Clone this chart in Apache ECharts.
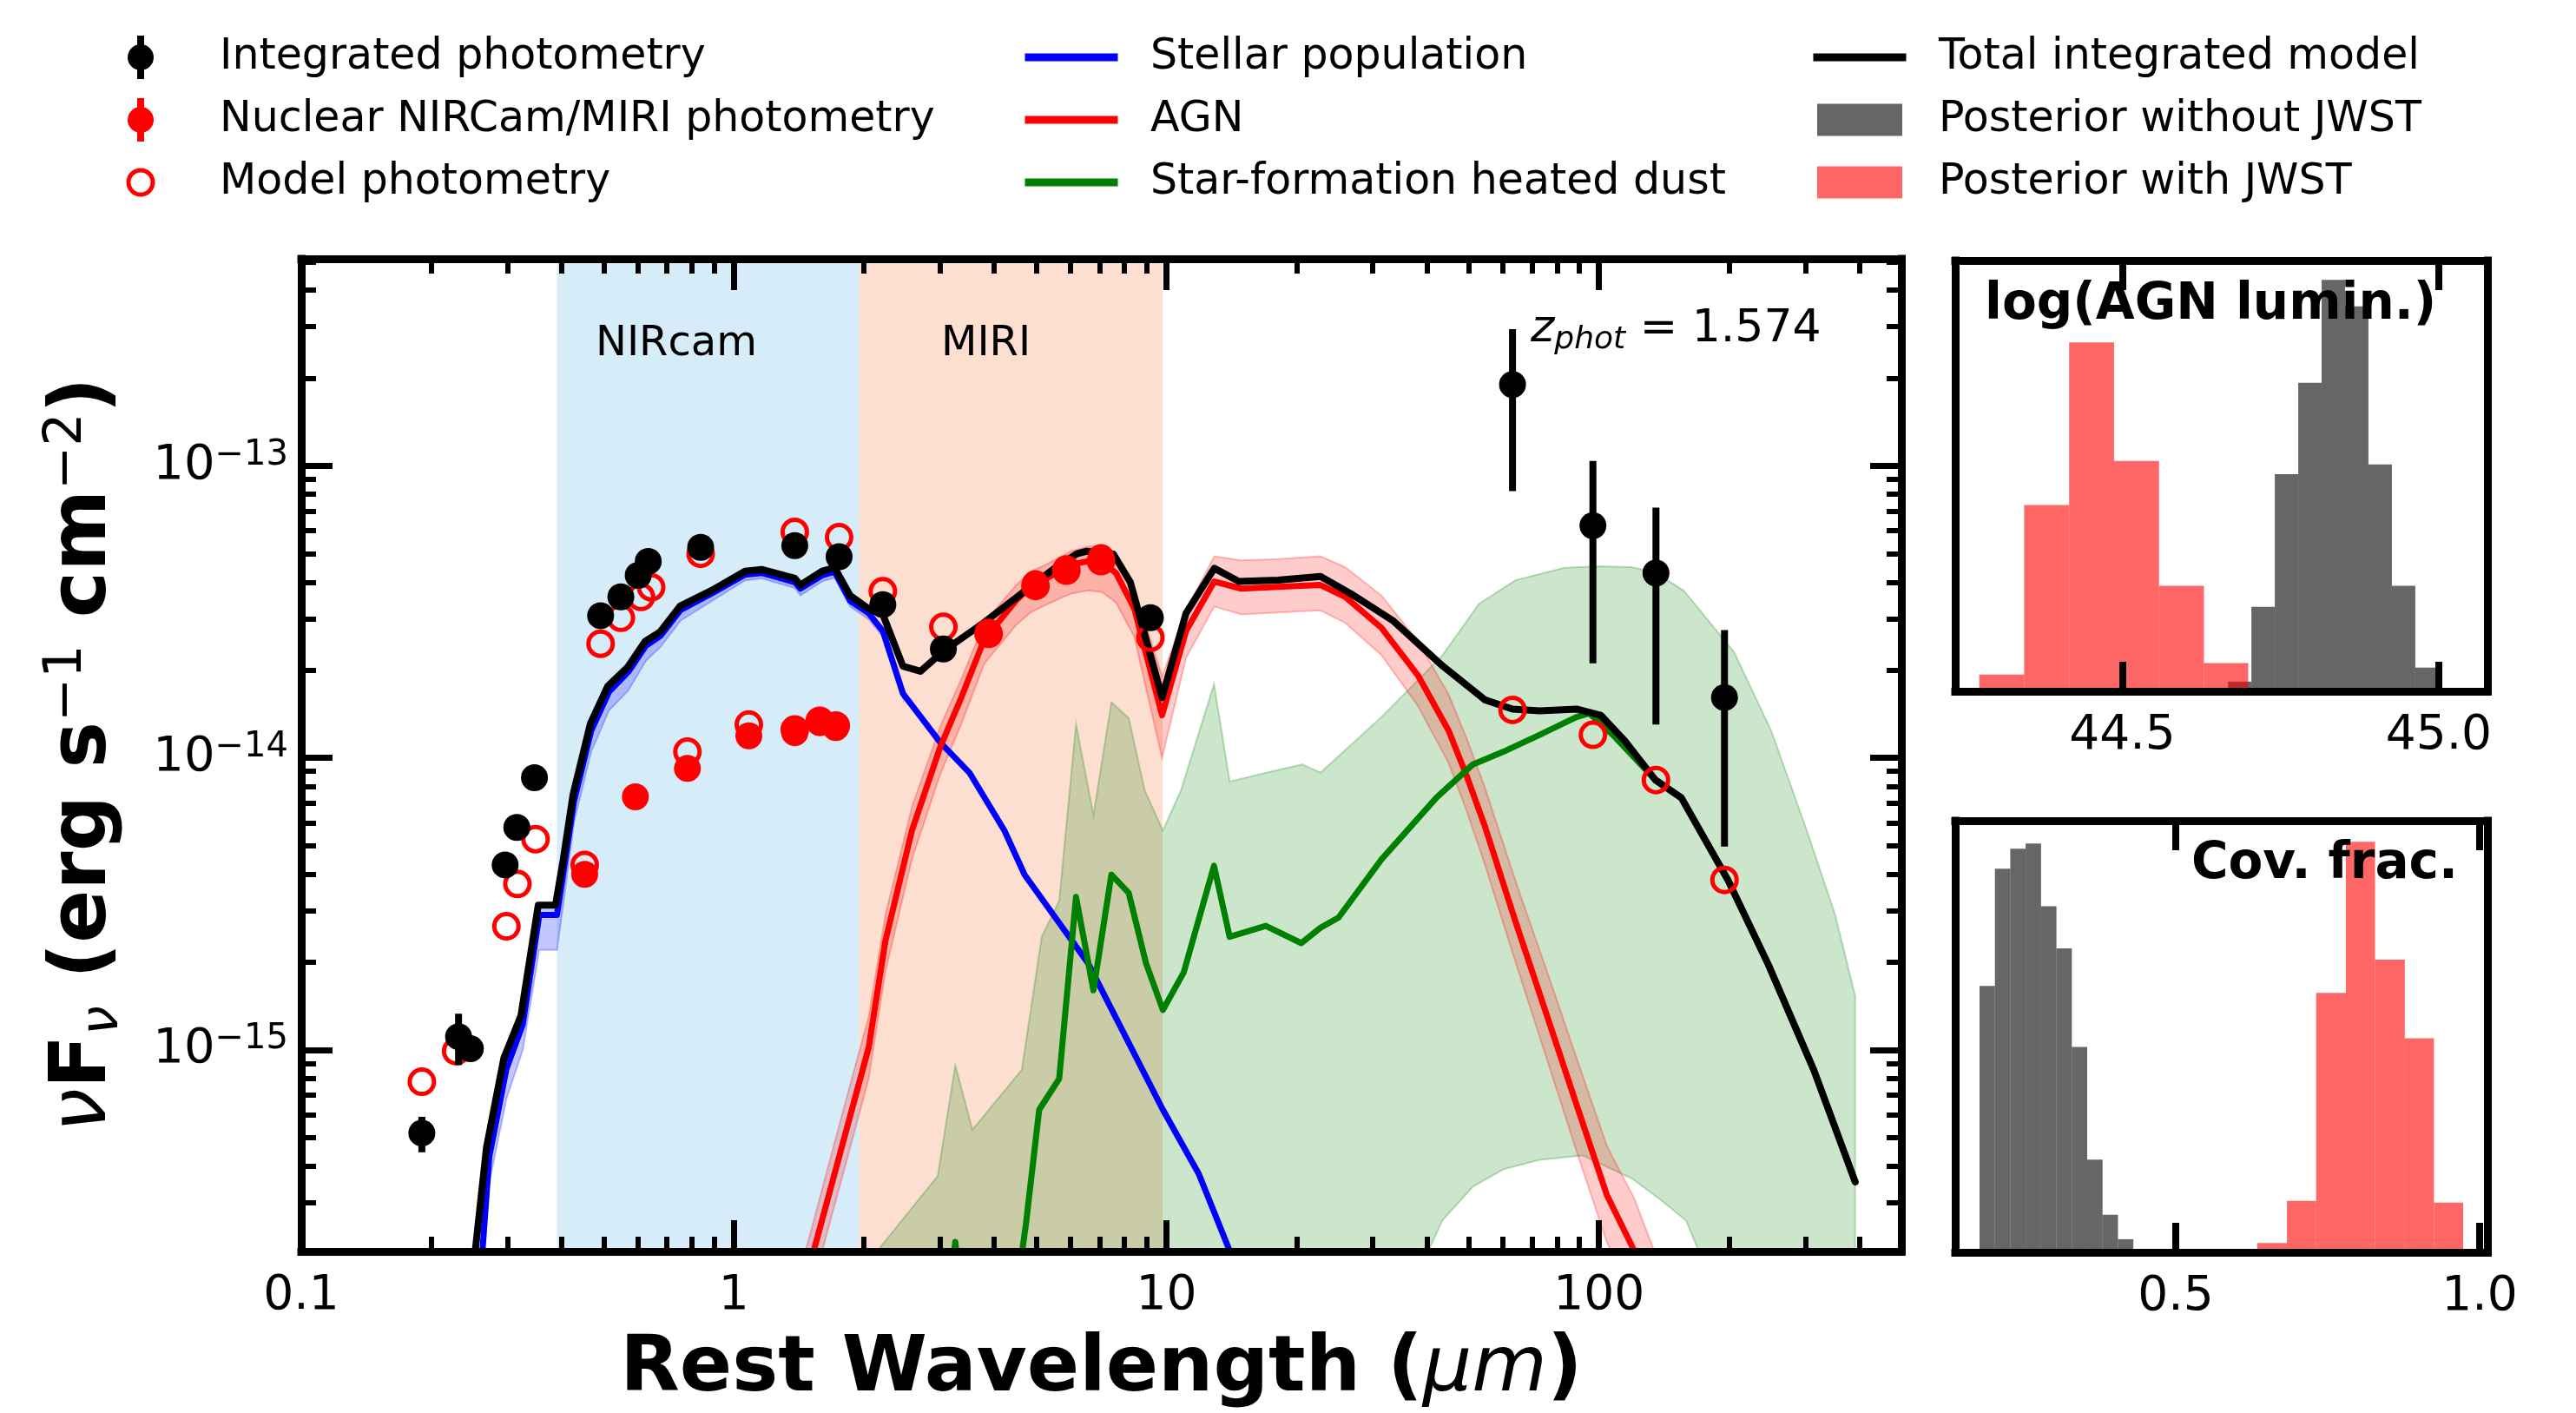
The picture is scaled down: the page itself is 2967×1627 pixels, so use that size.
<!DOCTYPE html>
<html>
<head>
<meta charset="utf-8">
<title>SED decomposition</title>
<script src="https://cdn.jsdelivr.net/npm/echarts@6.0.0/dist/echarts.min.js"></script>
<style>
  html, body { margin: 0; padding: 0; background: #fff; }
  #sed { width: 2967px; height: 1627px; }
</style>
</head>
<body>
<div id="sed"></div>
<script>
// ---------- axis ranges ----------
const waveMin = 0.1, waveMax = 500;
const fluxMin = 2.04e-16, fluxMax = 5.12e-13;
const xMajor = [0.1, 1, 10, 100];
const yMajor = [1e-15, 1e-14, 1e-13];

// ---------- instrument coverage (rest frame, micron) ----------
const instLabels = ['NIRcam', 'MIRI'];
const instFrom = [0.39, 1.95];
const instTo = [1.95, 9.8];

// ---------- integrated photometry ----------
const intWave = [0.19, 0.231, 0.246, 0.296, 0.315, 0.346, 0.492, 0.548, 0.601, 0.634, 0.838, 1.383, 1.751, 2.21, 3.05, 9.18, 63.1, 96.8, 135.4, 195];
const intFlux = [5.19e-16, 1.11e-15, 1.01e-15, 4.3e-15, 5.78e-15, 8.55e-15, 3.07e-14, 3.56e-14, 4.22e-14, 4.71e-14, 5.26e-14, 5.33e-14, 4.89e-14, 3.35e-14, 2.36e-14, 3.02e-14, 1.9e-13, 6.24e-14, 4.3e-14, 1.61e-14];
const intLow = [4.46e-16, 8.87e-16, 9.6e-16, 4.1e-15, 5.5e-15, 8.2e-15, 2.95e-14, 3.45e-14, 4.1e-14, 4.55e-14, 5.1e-14, 5.15e-14, 4.7e-14, 3.2e-14, 2.25e-14, 2.85e-14, 8.2e-14, 2.11e-14, 1.3e-14, 4.97e-15];
const intHigh = [5.9e-16, 1.33e-15, 1.06e-15, 4.5e-15, 6.05e-15, 8.9e-15, 3.2e-14, 3.67e-14, 4.35e-14, 4.87e-14, 5.42e-14, 5.5e-14, 5.08e-14, 3.5e-14, 2.47e-14, 3.19e-14, 2.94e-13, 1.04e-13, 7.2e-14, 2.74e-14];

// ---------- nuclear NIRCam / MIRI photometry ----------
const nucWave = [0.452, 0.592, 0.781, 1.083, 1.383, 1.58, 1.72, 3.88, 4.98, 5.87, 7.06];
const nucFlux = [3.99e-15, 7.36e-15, 9.2e-15, 1.19e-14, 1.22e-14, 1.32e-14, 1.27e-14, 2.7e-14, 3.95e-14, 4.45e-14, 4.85e-14];

// ---------- model photometry ----------
const modWave = [0.19, 0.228, 0.298, 0.316, 0.348, 0.452, 0.492, 0.548, 0.61, 0.644, 0.781, 0.838, 1.083, 1.383, 1.383, 1.58, 1.72, 1.751, 2.21, 3.05, 3.88, 4.98, 5.87, 7.06, 9.18, 63.1, 96.8, 135.4, 195];
const modFlux = [7.78e-16, 9.9e-16, 2.65e-15, 3.7e-15, 5.27e-15, 4.3e-15, 2.46e-14, 3.02e-14, 3.56e-14, 3.84e-14, 1.05e-14, 5.0e-14, 1.3e-14, 5.94e-14, 1.25e-14, 1.34e-14, 1.29e-14, 5.7e-14, 3.72e-14, 2.81e-14, 2.66e-14, 3.88e-14, 4.38e-14, 4.72e-14, 2.58e-14, 1.46e-14, 1.2e-14, 8.4e-15, 3.82e-15];

// ---------- total integrated model ----------
const totWave = [0.245, 0.252, 0.268, 0.294, 0.322, 0.353, 0.387, 0.403, 0.425, 0.466, 0.511, 0.569, 0.624, 0.675, 0.751, 0.89, 1.061, 1.159, 1.383, 1.425, 1.6, 1.71, 1.857, 2.05, 2.21, 2.46, 2.7, 3.05, 3.79, 4.85, 5.57, 6.21, 6.52, 7.54, 8.25, 9.77, 11.1, 12.9, 14.7, 18.1, 22.7, 26.7, 33.5, 43.4, 54.5, 63.1, 72.9, 88.7, 100.9, 114.9, 135, 155, 198.6, 246.6, 314, 391];
const totFlux = [1.5e-16, 2.0e-16, 4.63e-16, 9.38e-16, 1.31e-15, 3.13e-15, 3.13e-15, 4.46e-15, 7.5e-15, 1.31e-14, 1.76e-14, 2.05e-14, 2.51e-14, 2.7e-14, 3.31e-14, 3.75e-14, 4.36e-14, 4.42e-14, 4.12e-14, 3.91e-14, 4.36e-14, 4.48e-14, 3.6e-14, 3.24e-14, 3.1e-14, 2.06e-14, 1.98e-14, 2.32e-14, 2.91e-14, 3.86e-14, 4.51e-14, 5.0e-14, 5.1e-14, 4.99e-14, 4.0e-14, 1.61e-14, 3.13e-14, 4.46e-14, 4.02e-14, 4.06e-14, 4.18e-14, 3.65e-14, 2.94e-14, 2.07e-14, 1.58e-14, 1.47e-14, 1.45e-14, 1.47e-14, 1.4e-14, 1.14e-14, 8.4e-15, 7.3e-15, 3.82e-15, 1.95e-15, 8.5e-16, 3.53e-16];

// ---------- stellar population ----------
const stelWave = [0.255, 0.262, 0.272, 0.298, 0.325, 0.355, 0.39, 0.405, 0.427, 0.468, 0.514, 0.57, 0.626, 0.677, 0.753, 0.89, 1.061, 1.159, 1.383, 1.425, 1.6, 1.71, 1.857, 2.05, 2.21, 2.46, 3.0, 3.51, 4.22, 4.7, 5.48, 6.59, 9.81, 11.88, 14.0, 14.6];
const stelFlux = [1.6e-16, 2.0e-16, 4.3e-16, 8.6e-16, 1.22e-15, 2.9e-15, 2.9e-15, 4.2e-15, 7.1e-15, 1.24e-14, 1.68e-14, 1.97e-14, 2.42e-14, 2.62e-14, 3.21e-14, 3.66e-14, 4.24e-14, 4.3e-14, 4.0e-14, 3.8e-14, 4.22e-14, 4.34e-14, 3.45e-14, 3.13e-14, 2.72e-14, 1.66e-14, 1.13e-14, 8.87e-15, 5.64e-15, 3.98e-15, 2.9e-15, 1.98e-15, 6.24e-16, 3.76e-16, 2.05e-16, 1.7e-16];
const stelBandWave = [0.255, 0.262, 0.272, 0.298, 0.325, 0.355, 0.39, 0.405, 0.427, 0.468, 0.514, 0.57, 0.626, 0.677, 0.753, 0.89, 1.061, 1.159, 1.383, 1.425, 1.6, 1.71, 1.857, 2.05, 2.21, 2.46];
const stelBandUp = [1.7e-16, 2.2e-16, 4.6e-16, 9.2e-16, 1.3e-15, 3.1e-15, 3.1e-15, 4.4e-15, 7.4e-15, 1.3e-14, 1.75e-14, 2.04e-14, 2.5e-14, 2.7e-14, 3.3e-14, 3.75e-14, 4.34e-14, 4.4e-14, 4.1e-14, 3.9e-14, 4.34e-14, 4.46e-14, 3.58e-14, 3.2e-14, 2.8e-14, 1.7e-14];
const stelBandLow = [1.3e-16, 1.6e-16, 3.5e-16, 6.8e-16, 1.0e-15, 2.2e-15, 2.2e-15, 3.3e-15, 6.0e-15, 1.05e-14, 1.45e-14, 1.7e-14, 2.15e-14, 2.4e-14, 2.95e-14, 3.45e-14, 4.05e-14, 4.12e-14, 3.82e-14, 3.6e-14, 4.02e-14, 4.14e-14, 3.3e-14, 2.98e-14, 2.6e-14, 1.6e-14];

// ---------- AGN ----------
const agnWave = [1.4, 1.53, 1.8, 2.05, 2.24, 2.58, 3.0, 3.35, 3.79, 4.49, 4.85, 5.28, 6.01, 6.6, 7.1, 7.65, 8.43, 9.77, 11.1, 12.9, 14.9, 18.1, 22.7, 25.9, 31.4, 38.2, 44.9, 49.4, 54.5, 64.1, 75.4, 88.7, 104.2, 120.6, 135];
const agnFlux = [1.26e-16, 2.05e-16, 5.0e-16, 1.02e-15, 2.36e-15, 5.64e-15, 1.09e-14, 1.6e-14, 2.54e-14, 3.46e-14, 3.86e-14, 4.12e-14, 4.59e-14, 4.72e-14, 4.7e-14, 4.29e-14, 3.24e-14, 1.4e-14, 2.72e-14, 4.02e-14, 3.8e-14, 3.85e-14, 3.91e-14, 3.56e-14, 2.79e-14, 1.91e-14, 1.24e-14, 8.7e-15, 5.82e-15, 2.75e-15, 1.34e-15, 6.5e-16, 3.19e-16, 2.05e-16, 1.3e-16];
const agnUp = [1.6e-16, 2.6e-16, 6.4e-16, 1.3e-15, 2.9e-15, 6.8e-15, 1.28e-14, 1.85e-14, 2.9e-14, 3.9e-14, 4.35e-14, 4.6e-14, 5.1e-14, 5.3e-14, 5.3e-14, 4.9e-14, 3.8e-14, 1.9e-14, 3.2e-14, 4.9e-14, 4.75e-14, 4.8e-14, 4.9e-14, 4.5e-14, 3.6e-14, 2.5e-14, 1.65e-14, 1.17e-14, 7.9e-15, 3.8e-15, 1.9e-15, 9.4e-16, 4.7e-16, 3.1e-16, 2.0e-16];
const agnLow = [9.5e-17, 1.6e-16, 3.9e-16, 8.0e-16, 1.85e-15, 4.5e-15, 8.8e-15, 1.3e-14, 2.1e-14, 2.85e-14, 3.15e-14, 3.35e-14, 3.65e-14, 3.75e-14, 3.7e-14, 3.4e-14, 2.6e-14, 1.0e-14, 2.2e-14, 3.3e-14, 3.1e-14, 3.15e-14, 3.2e-14, 2.9e-14, 2.25e-14, 1.5e-14, 9.6e-15, 6.6e-15, 4.3e-15, 2.0e-15, 9.5e-16, 4.5e-16, 2.2e-16, 1.35e-16, 9.0e-17];

// ---------- star-formation heated dust ----------
const sfWave = [3.1, 3.25, 3.4, 4.5, 4.63, 4.73, 5.08, 5.65, 6.18, 6.78, 7.46, 8.18, 8.97, 9.81, 10.96, 12.88, 14.0, 16.97, 20.5, 22.7, 25.0, 31.4, 42.1, 51.1, 60.1, 72.9, 88.7, 95, 107.6, 135, 155, 198.6, 246.6, 314, 391];
const sfFlux = [1.2e-16, 2.2e-16, 1.2e-16, 1.2e-16, 2.0e-16, 2.51e-16, 6.24e-16, 7.97e-16, 3.34e-15, 1.6e-15, 3.98e-15, 3.45e-15, 1.98e-15, 1.37e-15, 1.84e-15, 4.27e-15, 2.44e-15, 2.66e-15, 2.32e-15, 2.62e-15, 2.84e-15, 4.49e-15, 7.31e-15, 9.5e-15, 1.05e-14, 1.2e-14, 1.38e-14, 1.42e-14, 1.2e-14, 8.4e-15, 7.3e-15, 3.82e-15, 1.95e-15, 8.5e-16, 3.53e-16];
const sfUpWave = [2.0, 2.96, 3.25, 3.56, 4.63, 5.15, 5.65, 6.18, 6.78, 7.46, 8.18, 8.91, 9.81, 10.8, 12.88, 14.0, 17.0, 20.6, 22.7, 31.4, 43.4, 52.8, 64.1, 83.1, 101, 119, 135, 157, 205, 250, 301, 351, 391];
const sfUpFlux = [1.8e-16, 3.7e-16, 8.85e-16, 5.33e-16, 8.55e-16, 2.44e-15, 3.24e-15, 1.3e-14, 6.37e-15, 1.55e-14, 1.37e-14, 7.73e-15, 5.64e-15, 7.73e-15, 1.79e-14, 8.3e-15, 8.9e-15, 9.5e-15, 8.9e-15, 1.38e-14, 2.24e-14, 3.37e-14, 4.06e-14, 4.48e-14, 4.53e-14, 4.5e-14, 4.31e-14, 3.74e-14, 2.31e-14, 1.24e-14, 5.74e-15, 2.92e-15, 1.53e-15];
const sfLowWave = [2.0, 38.0, 39.4, 43.4, 51.1, 60.1, 72.9, 91.6, 119.4, 139.4, 159, 170, 176, 391];
const sfLowFlux = [1e-17, 1e-17, 1.9e-16, 2.6e-16, 3.4e-16, 3.9e-16, 4.2e-16, 4.35e-16, 3.62e-16, 3.05e-16, 2.6e-16, 2.05e-16, 1e-17, 1e-17];

// ---------- posteriors: log(AGN luminosity) ----------
const lumEdgesJwst = [44.274, 44.345, 44.416, 44.487, 44.558, 44.629, 44.699, 44.770];
const lumCountsJwst = [19, 212, 397, 262, 120, 32, 3];
const lumEdgesNoJwst = [44.667, 44.704, 44.741, 44.778, 44.815, 44.852, 44.889, 44.926, 44.963, 45.0, 45.037];
const lumCountsNoJwst = [11, 96, 247, 351, 468, 438, 258, 120, 27, 0.5];
const lumTicks = [44.5, 45.0];

// ---------- posteriors: covering fraction ----------
const covEdgesNoJwst = [0.177, 0.2023, 0.2276, 0.2529, 0.2783, 0.3036, 0.3289, 0.3542, 0.3795, 0.4049, 0.4302];
const covCountsNoJwst = [305, 439, 462, 468, 396, 348, 235, 106, 43, 15];
const covEdgesJwst = [0.586, 0.634, 0.683, 0.731, 0.780, 0.828, 0.877, 0.925, 0.973];
const covCountsJwst = [1.4, 10.7, 59, 297, 470, 335, 245, 57];
const covTicks = [0.5, 1.0];

// minor ticks of the log axes
const xMinor = [];
[0.1, 1, 10, 100].forEach(d => { for (let k = 2; k <= 9; k++) { const v = +(d * k).toPrecision(3); if (v < waveMax) xMinor.push(v); } });
const yMinor = [];
[1e-16, 1e-15, 1e-14, 1e-13].forEach(d => { for (let k = 2; k <= 9; k++) { const v = +(d * k).toPrecision(3); if (v > fluxMin && v < fluxMax) yMinor.push(v); } });

const FONT = 'DejaVu Sans';
const chart = echarts.init(document.getElementById('sed'));
const pair = (xs, ys) => xs.map((x, i) => [x, ys[i]]);

// 模型曲线
function curve(name, xs, ys, color, width, z) {
  return {
    type: 'line', name, xAxisIndex: 0, yAxisIndex: 0, z, silent: true,
    data: pair(xs, ys), symbol: 'none', showSymbol: false, clip: true,
    color, itemStyle: { color },
    lineStyle: { color, width, join: 'round', cap: 'round' }
  };
}

// 不确定度带：上边界 + 反向下边界组成多边形
function band(name, upX, upY, loX, loY, fill, stroke, z) {
  return {
    type: 'custom', name, xAxisIndex: 0, yAxisIndex: 0, z, silent: true,
    data: [[1, 1e-14]],
    renderItem(params, api) {
      const pts = [];
      for (let i = 0; i < upX.length; i++) pts.push(api.coord([upX[i], upY[i]]));
      for (let i = loX.length - 1; i >= 0; i--) pts.push(api.coord([loX[i], loY[i]]));
      const cs = params.coordSys;
      return {
        type: 'polygon', shape: { points: pts },
        style: { fill, stroke, lineWidth: 2 },
        clipPath: { type: 'rect', shape: { x: cs.x, y: cs.y, width: cs.width, height: cs.height } }
      };
    }
  };
}

// 直方图
function hist(name, edges, counts, color, axisIdx, z) {
  return {
    type: 'custom', name, xAxisIndex: axisIdx, yAxisIndex: axisIdx, z, silent: true,
    itemStyle: { color },
    data: counts.map((c, i) => [edges[i], edges[i + 1], c]),
    encode: { x: [0, 1], y: 2 },
    renderItem(params, api) {
      const a = api.coord([api.value(0), api.value(2)]);
      const b = api.coord([api.value(1), 0]);
      return { type: 'rect', shape: { x: a[0], y: a[1], width: b[0] - a[0], height: b[1] - a[1] }, style: { fill: color } };
    }
  };
}

const spine = { show: true, onZero: false, lineStyle: { color: '#000', width: 9, cap: 'square' } };
const noLabel = { show: false };

function logX(position, tickValues, len, w, line, label) {
  return {
    gridIndex: 0, type: 'log', logBase: 10, min: waveMin, max: waveMax, position, z: 50,
    axisLine: line ? spine : { show: false },
    axisTick: { show: true, inside: true, length: len, lineStyle: { color: '#000', width: w }, customValues: tickValues },
    axisLabel: label || noLabel,
    splitLine: { show: false }, minorTick: { show: false }
  };
}
function logY(position, tickValues, len, w, line, label) {
  return {
    gridIndex: 0, type: 'log', logBase: 10, min: fluxMin, max: fluxMax, position, z: 50,
    axisLine: line ? spine : { show: false },
    axisTick: { show: true, inside: true, length: len, lineStyle: { color: '#000', width: w }, customValues: tickValues },
    axisLabel: label || noLabel,
    splitLine: { show: false }, minorTick: { show: false }
  };
}
function histX(grid, position, min, max, ticks, label) {
  return {
    gridIndex: grid, type: 'value', min, max, position, z: 50,
    axisLine: spine,
    axisTick: { show: true, inside: true, length: 34, lineStyle: { color: '#000', width: 8 }, customValues: ticks },
    axisLabel: label ? { show: true, customValues: ticks, formatter: v => v.toFixed(1), margin: 24, fontSize: 55, fontFamily: FONT, color: '#000' } : noLabel,
    splitLine: { show: false }
  };
}
function histY(grid, position, max) {
  return {
    gridIndex: grid, type: 'value', min: 0, max, position, z: 50,
    axisLine: spine, axisTick: { show: false }, axisLabel: noLabel, splitLine: { show: false }
  };
}

// legend handles, all drawn in the same 172 x 50 box (matplotlib handle + text pad)
const errIcon = 'path://M0,0 L0,0 M172,50 L172,50 M82,0 H90 V50 H82 Z M71,25 A15,15 0 1,1 101,25 A15,15 0 1,1 71,25 Z';
const ringIcon = 'path://M0,0 L0,0 M172,50 L172,50 M69.5,25 A16.5,16.5 0 1,1 102.5,25 A16.5,16.5 0 1,1 69.5,25 Z M74.5,25 A11.5,11.5 0 1,0 97.5,25 A11.5,11.5 0 1,0 74.5,25 Z';
const lineIcon = 'path://M0,0 L0,0 M172,50 L172,50 M32.5,20.5 H139.5 V29.5 H32.5 Z';
const patchIcon = 'path://M0,0 L0,0 M172,50 L172,50 M37,6.5 H135 V43.5 H37 Z';

function legendBox(left, items) {
  return {
    left, top: 41, orient: 'vertical', padding: 0, itemWidth: 172, itemHeight: 50, itemGap: 22,
    selectedMode: false, symbolKeepAspect: true,
    textStyle: { fontSize: 49, fontFamily: FONT, color: '#000', lineHeight: 50 },
    data: items.map(it => ({ name: it[0], icon: it[1], itemStyle: { color: it[2], borderWidth: 0 } }))
  };
}

const option = {
  backgroundColor: '#fff',
  animation: false,
  textStyle: { fontFamily: FONT },
  grid: [
    { left: 347, top: 298, width: 1843, height: 1143, outerBoundsMode: 'none' },
    { left: 2252, top: 300, width: 613, height: 496, outerBoundsMode: 'none' },
    { left: 2252, top: 945, width: 613, height: 497, outerBoundsMode: 'none' }
  ],
  legend: [
    legendBox(76, [['Integrated photometry', errIcon, '#000'], ['Nuclear NIRCam/MIRI photometry', errIcon, 'red'], ['Model photometry', ringIcon, 'red']]),
    legendBox(1148, [['Stellar population', lineIcon, 'blue'], ['AGN', lineIcon, 'red'], ['Star-formation heated dust', lineIcon, 'green']]),
    legendBox(2056, [['Total integrated model', lineIcon, '#000'], ['Posterior without JWST', patchIcon, 'rgba(0,0,0,0.6)'], ['Posterior with JWST', patchIcon, 'rgba(255,0,0,0.6)']])
  ],
  xAxis: [
    Object.assign(logX('bottom', xMajor, 36, 7, true, {
      show: true, customValues: xMajor, margin: 24, fontSize: 55, fontFamily: FONT, color: '#000',
      formatter: v => (v < 1 ? '0.1' : String(Math.round(v)))
    }), {
      name: '{b|Rest Wavelength (}{i|μm}{b|)}', nameLocation: 'middle', nameGap: 92,
      nameTextStyle: { rich: {
        b: { fontSize: 89, fontWeight: 'bold', fontFamily: FONT, color: '#000' },
        i: { fontSize: 89, fontStyle: 'italic', fontFamily: FONT, color: '#000' }
      } }
    }),
    logX('top', xMajor, 36, 7, true),
    logX('bottom', xMinor, 17, 6, false),
    logX('top', xMinor, 17, 6, false),
    histX(1, 'bottom', 44.236, 45.077, lumTicks, true),
    histX(1, 'top', 44.236, 45.077, lumTicks, false),
    histX(2, 'bottom', 0.137, 1.013, covTicks, true),
    histX(2, 'top', 0.137, 1.013, covTicks, false)
  ],
  yAxis: [
    logY('left', yMajor, 36, 7, true, {
      show: true, customValues: yMajor, margin: 15, color: '#000',
      formatter: v => '{m|10}{e|−' + Math.abs(Math.round(Math.log10(v))) + '}',
      rich: {
        m: { fontSize: 56, fontFamily: FONT, color: '#000', lineHeight: 64 },
        e: { fontSize: 40, fontFamily: FONT, color: '#000', lineHeight: 38, verticalAlign: 'top' }
      }
    }),
    logY('right', yMajor, 36, 7, true),
    logY('left', yMinor, 17, 6, false),
    logY('right', yMinor, 17, 6, false),
    histY(1, 'left', 490), histY(1, 'right', 490),
    histY(2, 'left', 494), histY(2, 'right', 494)
  ],
  graphic: [
    { type: 'text', x: 686, y: 397, z: 100, silent: true,
      style: { text: instLabels[0], fontSize: 48, fontFamily: FONT, fill: '#000', align: 'left', verticalAlign: 'middle' } },
    { type: 'text', x: 1084, y: 397, z: 100, silent: true,
      style: { text: instLabels[1], fontSize: 48, fontFamily: FONT, fill: '#000', align: 'left', verticalAlign: 'middle' } },
    { type: 'text', x: 1763, y: 379, z: 100, silent: true,
      style: {
        text: '{i|z}{s|phot}{n| = 1.574}', align: 'left', verticalAlign: 'middle',
        rich: {
          i: { fontSize: 52, fontStyle: 'italic', fontFamily: FONT, fill: '#000', lineHeight: 62 },
          s: { fontSize: 36, fontStyle: 'italic', fontFamily: FONT, fill: '#000', lineHeight: 30, verticalAlign: 'bottom' },
          n: { fontSize: 52, fontFamily: FONT, fill: '#000', lineHeight: 62 }
        }
      } },
    { type: 'text', x: 2286, y: 352, z: 100, silent: true,
      style: { text: 'log(AGN lumin.)', fontSize: 58, fontWeight: 'bold', fontFamily: FONT, fill: '#000', align: 'left', verticalAlign: 'middle' } },
    { type: 'text', x: 2831, y: 996, z: 100, silent: true,
      style: { text: 'Cov. frac.', fontSize: 58, fontWeight: 'bold', fontFamily: FONT, fill: '#000', align: 'right', verticalAlign: 'middle' } },
    { type: 'text', x: 98, y: 869, rotation: Math.PI / 2, z: 100, silent: true,
      style: {
        text: '{i|ν}{b|F}{sub|ν}{b| (erg s}{sup|−1}{b| cm}{sup|−2}{b|)}', align: 'center', verticalAlign: 'middle',
        rich: {
          b: { fontSize: 90, fontWeight: 'bold', fontFamily: FONT, fill: '#000', lineHeight: 102 },
          i: { fontSize: 90, fontStyle: 'italic', fontFamily: FONT, fill: '#000', lineHeight: 102 },
          sub: { fontSize: 60, fontStyle: 'italic', fontFamily: FONT, fill: '#000', lineHeight: 50, verticalAlign: 'bottom' },
          sup: { fontSize: 60, fontFamily: FONT, fill: '#000', lineHeight: 50, verticalAlign: 'top' }
        }
      } }
  ],
  series: [
    {
      type: 'custom', name: 'instruments', xAxisIndex: 0, yAxisIndex: 0, z: 1, silent: true,
      data: instFrom.map((f, i) => [f, instTo[i], i]),
      encode: { x: [0, 1] },
      renderItem(params, api) {
        const cs = params.coordSys;
        const x0 = api.coord([api.value(0), 1e-14])[0];
        const x1 = api.coord([api.value(1), 1e-14])[0];
        return { type: 'rect', shape: { x: x0, y: cs.y, width: x1 - x0, height: cs.height },
          style: { fill: api.value(2) === 0 ? '#d7ecf9' : '#fcdfd1' } };
      }
    },
    band('sfBand', sfUpWave, sfUpFlux, sfLowWave, sfLowFlux, 'rgba(0,128,0,0.2)', 'rgba(0,128,0,0.25)', 2),
    band('stelBand', stelBandWave, stelBandUp, stelBandWave, stelBandLow, 'rgba(60,70,255,0.3)', 'rgba(60,70,255,0.35)', 2),
    band('agnBand', agnWave, agnUp, agnWave, agnLow, 'rgba(255,0,0,0.2)', 'rgba(255,0,0,0.25)', 3),
    curve('Stellar population', stelWave, stelFlux, 'blue', 7, 4),
    curve('AGN', agnWave, agnFlux, 'red', 7, 5),
    curve('Star-formation heated dust', sfWave, sfFlux, 'green', 7, 6),
    curve('Total integrated model', totWave, totFlux, '#000', 8, 7),
    {
      type: 'scatter', name: 'Model photometry', xAxisIndex: 0, yAxisIndex: 0, z: 8, silent: true,
      data: pair(modWave, modFlux), symbol: 'circle', symbolSize: 28,
      itemStyle: { color: 'rgba(0,0,0,0)', borderColor: 'red', borderWidth: 5, opacity: 1 }
    },
    {
      type: 'custom', name: 'intErr', xAxisIndex: 0, yAxisIndex: 0, z: 9, silent: true,
      data: intWave.map((w, i) => [w, intLow[i], intHigh[i]]),
      encode: { x: 0, y: [1, 2] },
      renderItem(params, api) {
        const a = api.coord([api.value(0), api.value(1)]);
        const b = api.coord([api.value(0), api.value(2)]);
        return { type: 'line', shape: { x1: a[0], y1: a[1], x2: b[0], y2: b[1] }, style: { stroke: '#000', lineWidth: 8 } };
      }
    },
    {
      type: 'scatter', name: 'Integrated photometry', xAxisIndex: 0, yAxisIndex: 0, z: 9, silent: true,
      data: pair(intWave, intFlux), symbol: 'circle', symbolSize: 31, itemStyle: { color: '#000', opacity: 1 }
    },
    {
      type: 'scatter', name: 'Nuclear NIRCam/MIRI photometry', xAxisIndex: 0, yAxisIndex: 0, z: 10, silent: true,
      data: pair(nucWave, nucFlux), symbol: 'circle', symbolSize: 31, itemStyle: { color: 'red', opacity: 1 }
    },
    hist('Posterior without JWST', lumEdgesNoJwst, lumCountsNoJwst, 'rgba(0,0,0,0.6)', 4, 3),
    hist('Posterior with JWST', lumEdgesJwst, lumCountsJwst, 'rgba(255,0,0,0.6)', 4, 4),
    hist('Posterior without JWST', covEdgesNoJwst, covCountsNoJwst, 'rgba(0,0,0,0.6)', 6, 3),
    hist('Posterior with JWST', covEdgesJwst, covCountsJwst, 'rgba(255,0,0,0.6)', 6, 4)
  ]
};

chart.setOption(option);
</script>
</body>
</html>
